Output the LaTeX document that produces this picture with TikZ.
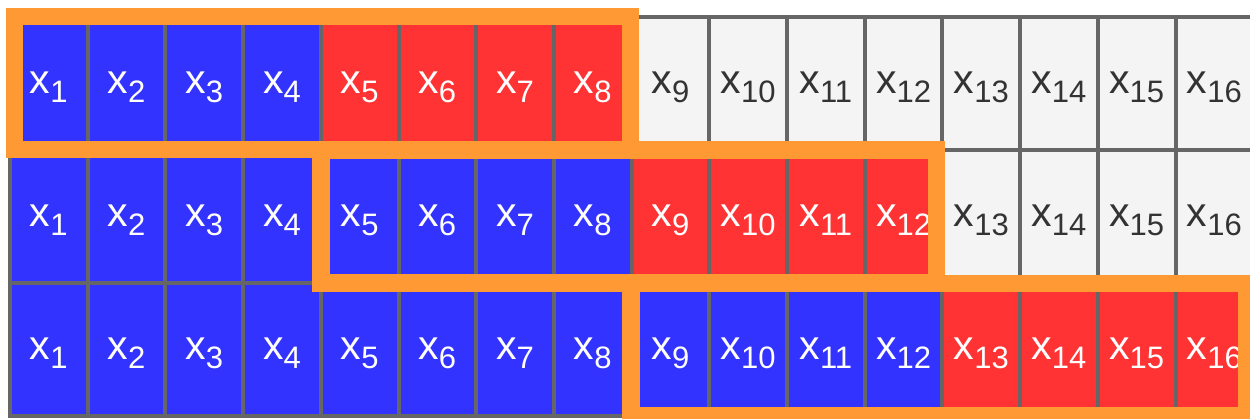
\documentclass[tikz,border=0pt]{standalone}
\usepackage{fontspec}
\setmainfont{Liberation Sans}
\definecolor{cellblue}{RGB}{51,51,255}
\definecolor{cellred}{RGB}{255,51,51}
\definecolor{cellgray}{RGB}{244,244,244}
\definecolor{gridgray}{RGB}{102,102,102}
\definecolor{textgray}{RGB}{51,51,51}
\definecolor{winorange}{RGB}{255,153,51}
\usepackage{tikz}
\newcommand{\cellsub}[1]{\raisebox{-9pt}{\fontsize{31}{31}\selectfont #1}}

\begin{document}
\begin{tikzpicture}[x=1pt, y=-1pt,
    lbl/.style={anchor=base, inner sep=0pt, font=\fontsize{41}{41}\selectfont},
    window/.style={draw=winorange, line width=17.5pt}]
  \useasboundingbox (0,0) rectangle (1250,419);
  \clip (0,0) rectangle (1250,419);
  % three rows of 16 cells: blue = seen, red = current window
  \foreach \r in {1,2,3} {
    \foreach \k in {1,...,16} {
      \pgfmathsetmacro{\cx}{10+77.7*(\k-1)}
      \pgfmathsetmacro{\cy}{17+133*(\r-1)}
      \ifnum\k>\numexpr4*\r+4\relax \def\cfill{cellgray}\def\ctext{textgray}%
      \else\ifnum\k>\numexpr4*\r\relax \def\cfill{cellred}\def\ctext{white}%
      \else \def\cfill{cellblue}\def\ctext{white}\fi\fi
      \filldraw[fill=\cfill, draw=gridgray, line width=4pt] (\cx,\cy) rectangle ++(77.7,133);
      \node[lbl, text=\ctext] (x\r-\k) at (\cx+38.85,\cy+77) {x\cellsub{\k}};
    }
  }
  % sliding windows
  \draw[window] (14.6,16.7) rectangle (630.3,149.5);
  \draw[window] (321,150) rectangle (936.3,283);
  \draw[window] (630.8,283.3) rectangle (1246.3,415.7);
\end{tikzpicture}
\end{document}
